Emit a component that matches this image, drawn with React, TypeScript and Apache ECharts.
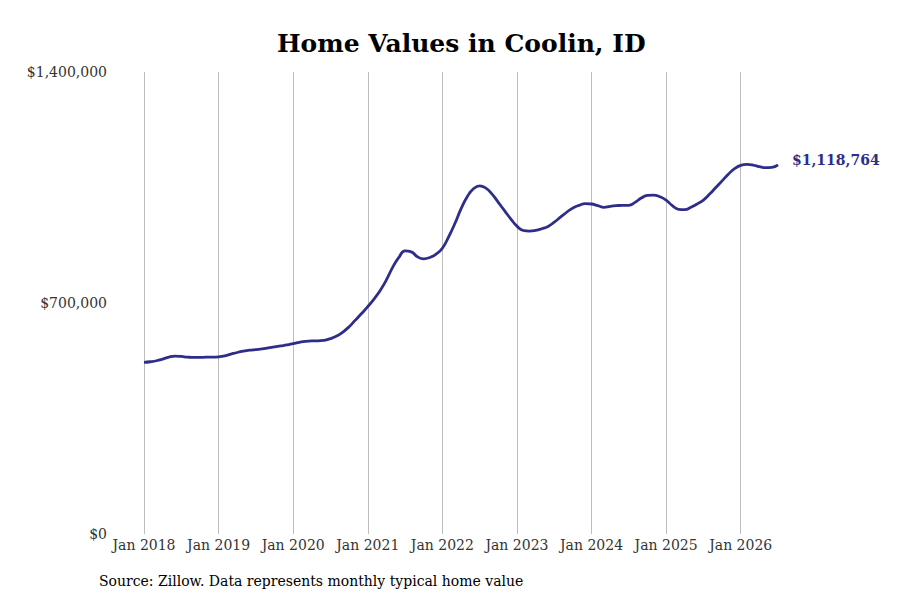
import React, { useEffect, useRef } from "react";
import * as echarts from "echarts";

const monthNames = ["Jan", "Feb", "Mar", "Apr", "May", "Jun", "Jul", "Aug", "Sep", "Oct", "Nov", "Dec"];
const years = [2018, 2019, 2020, 2021, 2022, 2023, 2024, 2025, 2026];

// Monthly typical home value (USD), Jan 2018 – Jul 2026
const values2018 = [520000, 522000, 525000, 530000, 536000, 539000, 538000, 536000, 535000, 535000, 536000, 536000];
const values2019 = [537000, 540000, 545000, 550000, 554000, 557000, 559000, 561000, 564000, 567000, 570000, 573000];
const values2020 = [577000, 581000, 584000, 585000, 585000, 587000, 592000, 600000, 612000, 628000, 648000, 668000];
const values2021 = [689000, 712000, 738000, 770000, 808000, 838000, 858000, 855000, 840000, 834000, 838000, 848000];
const values2022 = [866000, 900000, 940000, 985000, 1022000, 1046000, 1055000, 1048000, 1030000, 1005000, 980000, 955000];
const values2023 = [933000, 920000, 918000, 920000, 925000, 932000, 945000, 960000, 975000, 988000, 996000, 1001000];
const values2024 = [1000000, 995000, 990000, 993000, 995000, 996000, 996000, 1005000, 1018000, 1026000, 1027000, 1022000];
const values2025 = [1012000, 995000, 984000, 983000, 990000, 1000000, 1012000, 1030000, 1050000, 1070000, 1090000, 1107000];
const values2026 = [1117000, 1120000, 1118000, 1113000, 1110000, 1111000, 1118764];

const seriesValues = [
  ...values2018, ...values2019, ...values2020, ...values2021, ...values2022,
  ...values2023, ...values2024, ...values2025, ...values2026,
];

const categories: string[] = [];
years.forEach((y) => monthNames.forEach((m) => categories.push(`${m} ${y}`)));
categories.length = seriesValues.length;

const yTicks = [0, 700000, 1400000];

const fmt = (v: number) => "$" + Math.round(v).toLocaleString("en-US");

const FONT = "DejaVu Serif";
const LINE = "#2e2e8a";

export default function App() {
  const ref = useRef<HTMLDivElement>(null);
  useEffect(() => {
    if (!ref.current) return;
    const chart = echarts.init(ref.current, undefined, { renderer: "svg" });
    chart.setOption({
      animation: false,
      backgroundColor: "#ffffff",
      textStyle: { fontFamily: FONT },
      title: {
        text: "Home Values in Coolin, ID",
        left: 272,
        top: 26,
        textStyle: { fontFamily: FONT, fontSize: 25, fontWeight: "bold", color: "#000" },
      },
      grid: { left: 144, right: 122, top: 72, bottom: 66, containLabel: false },
      xAxis: {
        type: "category",
        data: categories,
        boundaryGap: false,
        axisLine: { show: false },
        axisTick: { show: false },
        axisLabel: {
          interval: (i: number) => i % 12 === 0,
          color: "#333",
          fontFamily: FONT,
          fontSize: 14,
          margin: 4,
        },
        splitLine: {
          show: true,
          interval: (i: number) => i % 12 === 0,
          lineStyle: { color: "#bdbdbd", width: 1 },
        },
      },
      yAxis: {
        type: "value",
        min: yTicks[0],
        max: yTicks[yTicks.length - 1],
        interval: yTicks[1] - yTicks[0],
        axisLine: { show: false },
        axisTick: { show: false },
        splitLine: { show: false },
        axisLabel: {
          formatter: (v: number) => fmt(v),
          color: "#333",
          fontFamily: FONT,
          fontSize: 14,
          margin: 37,
        },
      },
      series: [
        {
          type: "line",
          data: seriesValues,
          smooth: true,
          showSymbol: false,
          lineStyle: { color: LINE, width: 2.8 },
          itemStyle: { color: LINE },
          endLabel: {
            show: true,
            formatter: (p: any) => fmt(p.value),
            color: LINE,
            fontFamily: FONT,
            fontSize: 14,
            fontWeight: "bold",
            distance: 14,
            offset: [0, -5],
          },
        },
      ],
      graphic: [
        {
          type: "text",
          left: 99,
          top: 574,
          style: {
            text: "Source: Zillow. Data represents monthly typical home value",
            fontFamily: FONT,
            fontSize: 14,
            fill: "#000",
          },
        },
      ],
    });
    return () => chart.dispose();
  }, []);
  return <div ref={ref} style={{ width: 900, height: 600, margin: -8 }} />;
}
